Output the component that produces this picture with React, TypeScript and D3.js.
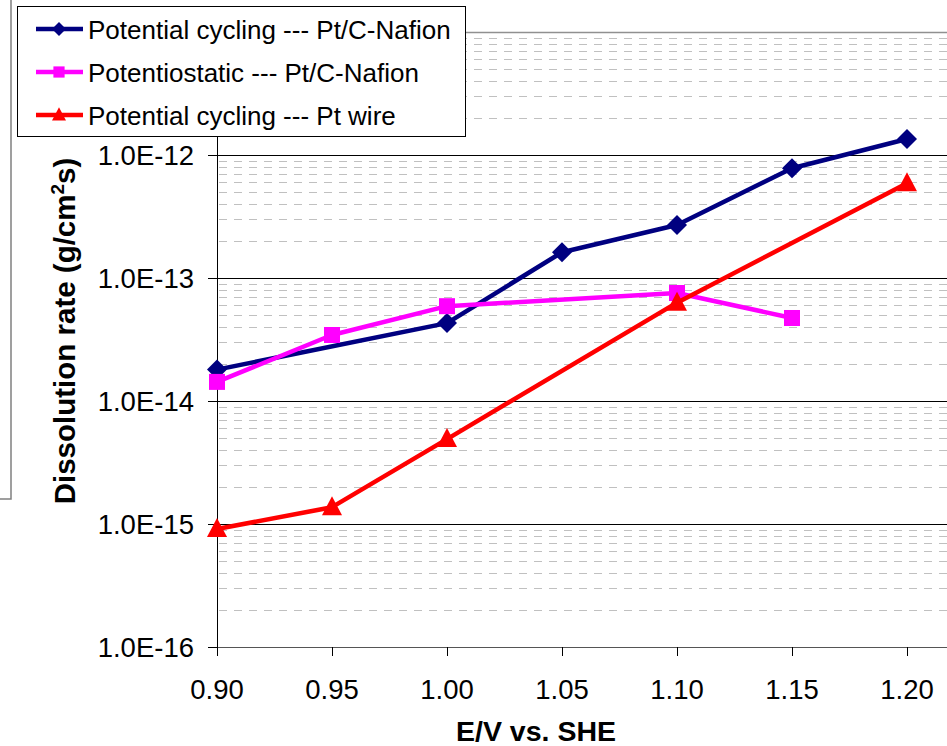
import React from "react";
import * as d3 from "d3";

const xTicks = [0.9, 0.95, 1.0, 1.05, 1.1, 1.15, 1.2];
const yTickExps = [-16, -15, -14, -13, -12, -11];
const yTickLabels = ["1.0E-16", "1.0E-15", "1.0E-14", "1.0E-13", "1.0E-12", ""];

const cyclingNafionX = [0.9, 1.0, 1.05, 1.1, 1.15, 1.2];
const cyclingNafionY = [1.8e-14, 4.3e-14, 1.62e-13, 2.7e-13, 7.8e-13, 1.35e-12];

const staticNafionX = [0.9, 0.95, 1.0, 1.1, 1.15];
const staticNafionY = [1.43e-14, 3.44e-14, 5.9e-14, 7.55e-14, 4.73e-14];

const wireX = [0.9, 0.95, 1.0, 1.1, 1.2];
const wireY = [9.1e-16, 1.37e-15, 4.9e-15, 6.3e-14, 5.9e-13];

const seriesNames = [
  "Potential cycling --- Pt/C-Nafion",
  "Potentiostatic --- Pt/C-Nafion",
  "Potential cycling --- Pt wire",
];
const seriesColors = ["#000080", "#ff00ff", "#ff0000"];
const seriesShapes = ["diamond", "square", "triangle"];

const W = 947;
const H = 746;
const left = 217;
const top = 32;
const bottom = 647;

const x = d3.scaleLinear().domain([0.9, 1.25]).range([left, left + 7 * 115]);
const y = d3.scaleLog().domain([1e-16, 1e-11]).range([bottom, top]);

function Marker({ shape, cx, cy, color, k = 1 }: { shape: string; cx: number; cy: number; color: string; k?: number }) {
  if (shape === "diamond") {
    const r = 10 * k;
    return <path d={`M${cx},${cy - r}L${cx + r},${cy}L${cx},${cy + r}L${cx - r},${cy}Z`} fill={color} />;
  }
  if (shape === "square") {
    const r = 8 * k;
    return <rect x={cx - r} y={cy - r} width={2 * r} height={2 * r} fill={color} />;
  }
  const s = 10 * k;
  return <path d={`M${cx},${cy - s * 1.1}L${cx + s},${cy + s * 0.8}L${cx - s},${cy + s * 0.8}Z`} fill={color} />;
}

export default function App() {
  const series = [
    { xs: cyclingNafionX, ys: cyclingNafionY },
    { xs: staticNafionX, ys: staticNafionY },
    { xs: wireX, ys: wireY },
  ];
  const line = d3
    .line<[number, number]>()
    .x((d) => x(d[0]))
    .y((d) => y(d[1]));

  const minor: number[] = [];
  for (let e = -16; e < -11; e++) {
    for (let m = 2; m <= 9; m++) minor.push(m * Math.pow(10, e));
  }
  const font = "'Liberation Sans', Arial, sans-serif";

  return (
    <svg
      width={W}
      height={H}
      style={{ position: "absolute", left: 0, top: 0, background: "#fff" }}
      fontFamily={font}
    >
      <rect x={0} y={0} width={W} height={H} fill="#fff" />
      {/* remnant frame */}
      <path d="M11,0V499H0" fill="none" stroke="#808080" strokeWidth={1.5} />

      {/* minor gridlines */}
      {minor.map((v, i) => (
        <line
          key={"m" + i}
          x1={left}
          x2={W}
          y1={Math.round(y(v)) + 0.5}
          y2={Math.round(y(v)) + 0.5}
          stroke="#c0c0c0"
          strokeWidth={1}
          strokeDasharray="8,7"
          strokeDashoffset={-2}
        />
      ))}
      {/* major gridlines */}
      {yTickExps.map((e, i) => (
        <line
          key={"g" + i}
          x1={left}
          x2={W}
          y1={Math.round(y(Math.pow(10, e))) + 0.5}
          y2={Math.round(y(Math.pow(10, e))) + 0.5}
          stroke={e === -11 ? "#909090" : e === -16 ? "#555" : "#000"}
          strokeWidth={e === -11 ? 1.5 : 1}
        />
      ))}
      {/* y axis */}
      <line x1={left + 0.5} x2={left + 0.5} y1={top} y2={bottom} stroke="#000" strokeWidth={1} />
      {yTickExps.map((e, i) => (
        <g key={"yt" + i}>
          <line
            x1={left - 9}
            x2={left}
            y1={Math.round(y(Math.pow(10, e))) + 0.5}
            y2={Math.round(y(Math.pow(10, e))) + 0.5}
            stroke="#000"
          />
          <text
            x={194}
            y={y(Math.pow(10, e)) + 10}
            textAnchor="end"
            fontSize={27.5}
            fill="#000"
          >
            {yTickLabels[i]}
          </text>
        </g>
      ))}
      {/* x axis */}
      {xTicks.map((t, i) => (
        <g key={"xt" + i}>
          <line x1={Math.round(x(t)) + 0.5} x2={Math.round(x(t)) + 0.5} y1={bottom} y2={bottom + 9} stroke="#000" />
          <text x={x(t)} y={699} textAnchor="middle" fontSize={27.5} fill="#000">
            {t.toFixed(2)}
          </text>
        </g>
      ))}

      {/* series */}
      {series.map((s, i) => (
        <g key={"s" + i}>
          <path
            d={line(s.xs.map((v, j) => [v, s.ys[j]] as [number, number])) || ""}
            fill="none"
            stroke={seriesColors[i]}
            strokeWidth={4.5}
            strokeLinejoin="round"
          />
          {s.xs.map((v, j) => (
            <Marker key={j} shape={seriesShapes[i]} cx={x(v)} cy={y(s.ys[j])} color={seriesColors[i]} />
          ))}
        </g>
      ))}

      {/* axis titles */}
      <text x={536} y={741} textAnchor="middle" fontSize={28.5} fontWeight="bold">
        E/V vs. SHE
      </text>
      <text
        transform="translate(75,331) rotate(-90)"
        textAnchor="middle"
        fontSize={29.5}
        fontWeight="bold"
      >
        Dissolution rate (g/cm<tspan dy={-11} fontSize={19}>2</tspan>
        <tspan dy={11}>s)</tspan>
      </text>

      {/* legend */}
      <rect x={17.5} y={6.5} width={448} height={130} fill="#fff" stroke="#000" strokeWidth={1} />
      {seriesNames.map((n, i) => {
        const cy = 29 + i * 43;
        return (
          <g key={"l" + i}>
            <line x1={36} x2={83} y1={cy} y2={cy} stroke={seriesColors[i]} strokeWidth={4.5} />
            <Marker shape={seriesShapes[i]} cx={59} cy={cy} color={seriesColors[i]} k={0.7} />
            <text x={88} y={cy + 9.5} fontSize={26} fill="#000">
              {n}
            </text>
          </g>
        );
      })}
    </svg>
  );
}
